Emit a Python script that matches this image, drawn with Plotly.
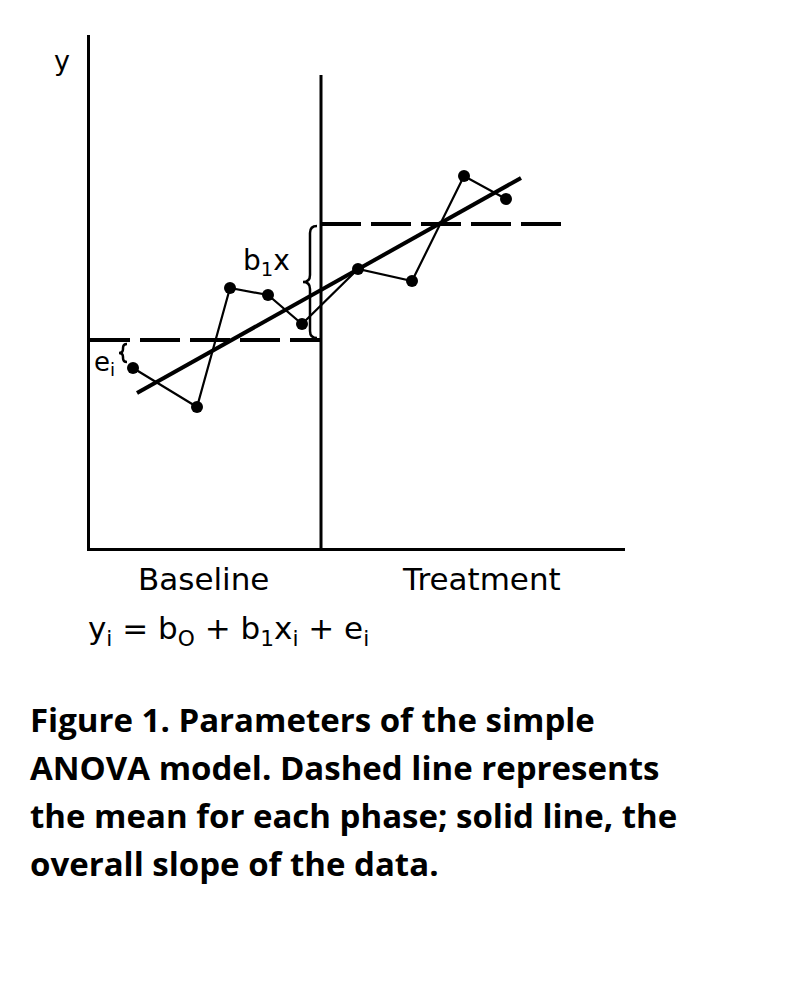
import plotly.graph_objects as go

# ---- data (units ~ 1 px) ----
obs_x = [43, 107, 140, 178, 212, 268, 322, 374, 416]
obs_y = [180, 141, 260, 253, 224, 279, 267, 372, 349]
phase_x = 231
phase_top = 473
baseline_mean = 208
treatment_mean = 324
baseline_span = [0, 231]
treatment_span = [231, 475]
trend_x = [47, 431]
trend_y = [155, 370]
phase_labels = ["Baseline", "Treatment"]

OFF = 8  # default page margin of the html body
W, H = 805 - 2 * OFF, 983 - 2 * OFF
L, R, T, B = 90 - OFF, 625 - OFF, 35 - OFF, 548 - OFF
X_RANGE = [0, R - L]
Y_RANGE = [0, B - T]

def px(xp):
    return (xp - OFF - L) / (R - L)

def py(yp):
    return (B - (yp - OFF)) / (B - T)

def brace(x, ylo, yhi, w):
    ym = (ylo + yhi) / 2
    h = w / 2
    return (f"M {x},{yhi} Q {x-h},{yhi} {x-h},{yhi-h} L {x-h},{ym+h} "
            f"Q {x-h},{ym} {x-w},{ym} Q {x-h},{ym} {x-h},{ym-h} "
            f"L {x-h},{ylo+h} Q {x-h},{ylo} {x},{ylo}")

fig = go.Figure()

fig.add_trace(go.Scatter(x=[phase_x, phase_x], y=[0, phase_top], mode="lines",
                         line=dict(color="black", width=3), hoverinfo="skip"))
fig.add_trace(go.Scatter(x=baseline_span, y=[baseline_mean] * 2, mode="lines",
                         line=dict(color="black", width=4, dash="40px,10px")))
fig.add_trace(go.Scatter(x=treatment_span, y=[treatment_mean] * 2, mode="lines",
                         line=dict(color="black", width=4, dash="40px,10px")))
fig.add_trace(go.Scatter(x=trend_x, y=trend_y, mode="lines",
                         line=dict(color="black", width=4)))
fig.add_trace(go.Scatter(x=obs_x, y=obs_y, mode="lines+markers",
                         line=dict(color="black", width=2.2),
                         marker=dict(color="black", size=12)))

shapes = [
    dict(type="path", xref="x", yref="y",
         path=brace(phase_x - 4, baseline_mean + 2, treatment_mean - 2, 14),
         line=dict(color="black", width=2.5)),
    dict(type="path", xref="x", yref="y",
         path=brace(obs_x[0] - 6, obs_y[0] + 6, baseline_mean - 4, 8),
         line=dict(color="black", width=2.5)),
]

lab_font = dict(family="DejaVu Sans", size=31, color="black")
annotations = [
    dict(text="y", x=px(62), y=py(60), font=dict(family="DejaVu Sans", size=27, color="black")),
    dict(text="b<sub>1</sub>x", x=px(266), y=py(262), font=dict(family="DejaVu Sans", size=28, color="black")),
    dict(text="e<sub>i</sub>", x=px(104), y=py(363), font=dict(family="DejaVu Sans", size=26, color="black")),
    dict(text=phase_labels[0], x=px(203), y=py(579), font=lab_font),
    dict(text=phase_labels[1], x=px(481), y=py(579), font=lab_font),
    dict(text="y<sub>i</sub> = b<sub>O</sub> + b<sub>1</sub>x<sub>i</sub> + e<sub>i</sub>",
         x=px(228), y=py(630), font=dict(family="DejaVu Sans", size=31, color="black")),
]
caption = ["Figure 1. Parameters of the simple",
           "ANOVA model. Dashed line represents",
           "the mean for each phase; solid line, the",
           "overall slope of the data."]
for i, line in enumerate(caption):
    annotations.append(dict(text="<b>" + line + "</b>", x=px(28), y=py(719 + 48 * i),
                            xanchor="left",
                            font=dict(family="Open Sans", size=33, color="black")))
for a in annotations:
    a.update(xref="paper", yref="paper", showarrow=False)
    a.setdefault("xanchor", "center")
    a["yanchor"] = "middle"

fig.update_layout(
    width=W, height=H, showlegend=False,
    plot_bgcolor="white", paper_bgcolor="white",
    margin=dict(l=L, r=W - R, t=T, b=H - B, pad=0),
    xaxis=dict(range=X_RANGE, showline=True, linecolor="black", linewidth=3,
               showgrid=False, zeroline=False, showticklabels=False, ticks=""),
    yaxis=dict(range=Y_RANGE, showline=True, linecolor="black", linewidth=3,
               showgrid=False, zeroline=False, showticklabels=False, ticks=""),
    shapes=shapes, annotations=annotations,
)

fig.write_html("out.html")
